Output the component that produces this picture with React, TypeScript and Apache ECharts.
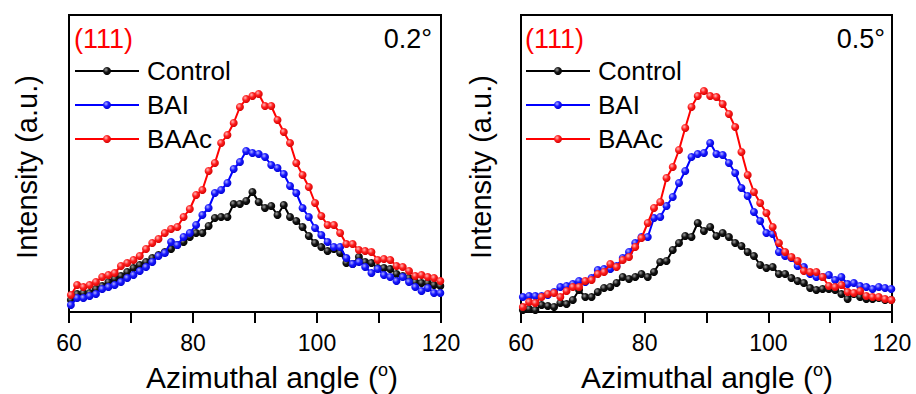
import React, { useEffect, useRef } from 'react';
import * as echarts from 'echarts';

// Azimuthal angle sample positions (deg)
const angles: number[] = Array.from({ length: 60 }, (_, i) => 60.3 + i * 1.01);

// Panel 0.2°
const control02 = [12, 18, 19, 19, 23, 26, 30, 33, 36, 40, 44, 47, 50, 54, 57, 60, 63, 67, 70, 75, 79, 79, 86, 94, 95, 95, 108, 108, 111, 120, 110, 104, 106, 97, 107, 95, 91, 85, 76, 69, 65, 61, 63, 59, 49, 48, 55, 50, 49, 44, 44, 43, 38, 36, 34, 30, 29, 29, 27, 26];
const bai02 = [7, 14, 14, 16, 18, 23, 25, 27, 30, 34, 37, 41, 45, 50, 56, 59, 70, 67, 75, 79, 87, 97, 104, 119, 122, 129, 143, 150, 161, 159, 158, 155, 147, 144, 138, 126, 119, 104, 95, 84, 77, 70, 65, 65, 54, 48, 50, 45, 39, 43, 37, 35, 31, 35, 30, 25, 21, 24, 19, 19];
const baac02 = [17, 27, 25, 27, 30, 35, 37, 39, 46, 49, 52, 56, 63, 69, 73, 79, 83, 85, 95, 103, 117, 122, 141, 149, 169, 177, 189, 205, 213, 216, 218, 206, 206, 192, 180, 169, 149, 137, 125, 109, 96, 87, 87, 79, 68, 68, 62, 61, 60, 52, 53, 52, 46, 45, 41, 36, 37, 35, 34, 31];

// Panel 0.5°
const control05 = [2, 3, 2, 7, 6, 5, 9, 8, 12, 22, 15, 15, 20, 24, 25, 29, 35, 33, 35, 38, 35, 40, 50, 51, 62, 69, 76, 75, 89, 81, 85, 76, 79, 75, 69, 66, 60, 56, 47, 44, 45, 38, 38, 34, 31, 29, 24, 22, 23, 23, 22, 18, 13, 18, 15, 13, 13, 14, 12, 12];
const bai05 = [15, 16, 16, 16, 17, 20, 25, 26, 28, 31, 30, 34, 42, 43, 43, 46, 54, 60, 69, 75, 75, 94, 95, 106, 115, 129, 141, 155, 158, 159, 169, 158, 157, 149, 139, 124, 116, 100, 91, 79, 78, 60, 56, 54, 46, 45, 38, 35, 35, 37, 32, 35, 28, 29, 26, 25, 23, 25, 24, 23];
const baac05 = [5, 10, 9, 15, 18, 19, 15, 21, 25, 25, 31, 32, 38, 40, 48, 45, 52, 55, 65, 74, 89, 104, 110, 134, 145, 162, 184, 205, 216, 221, 216, 215, 208, 198, 185, 160, 137, 120, 109, 99, 85, 69, 60, 55, 51, 41, 40, 40, 35, 26, 25, 27, 20, 19, 21, 16, 15, 15, 13, 12];

const seriesNames = ['Control', 'BAI', 'BAAc'];
const xTicks = [60, 80, 100, 120];
const panelTags = ['0.2°', '0.5°'];

const FONT = '"Liberation Sans", Arial, Helvetica, sans-serif';

const styles = [
  { line: '#000000', light: '#a0a0a0', mid: '#151515', dark: '#000000' },
  { line: '#0000ff', light: '#b0b0ff', mid: '#1a1aff', dark: '#0000d0' },
  { line: '#ff0000', light: '#ffb8b8', mid: '#ff1f1f', dark: '#d00000' },
];

function ball(s: { light: string; mid: string; dark: string }) {
  return new echarts.graphic.RadialGradient(0.38, 0.35, 0.7, [
    { offset: 0, color: s.light },
    { offset: 0.45, color: s.mid },
    { offset: 1, color: s.dark },
  ]);
}

export default function App() {
  const ref = useRef<HTMLDivElement>(null);

  useEffect(() => {
    if (!ref.current) return;
    const chart = echarts.init(ref.current, null, { renderer: 'svg', width: 916, height: 394 });

    const panels = [
      { left: 69, width: 372, data: [control02, bai02, baac02], tag: panelTags[0], legendLeft: 74, tagRight: 432, yTitleX: 27, xTitleX: 272 },
      { left: 521, width: 371, data: [control05, bai05, baac05], tag: panelTags[1], legendLeft: 525, tagRight: 885, yTitleX: 481, xTitleX: 707 },
    ];

    const grid: any[] = [];
    const xAxis: any[] = [];
    const yAxis: any[] = [];
    const series: any[] = [];
    const legend: any[] = [];
    const graphic: any[] = [];

    panels.forEach((p, i) => {
      grid.push({ left: p.left, top: 15, width: p.width, height: 297, show: true, borderColor: '#000', borderWidth: 2, backgroundColor: 'transparent' });
      xAxis.push({
        type: 'value', gridIndex: i, min: 60, max: 120, interval: 10,
        axisLine: { show: true, lineStyle: { color: '#000', width: 2 } },
        axisTick: { show: true, inside: false, length: 11, lineStyle: { color: '#000', width: 2 } },
        splitLine: { show: false },
        axisLabel: {
          color: '#000', fontSize: 23, fontFamily: FONT, margin: 19,
          formatter: (v: number) => (xTicks.includes(v) ? String(v) : ''),
        },
      });
      yAxis.push({
        type: 'value', gridIndex: i, min: 0, max: 297,
        axisLine: { show: true, lineStyle: { color: '#000', width: 2 } },
        axisTick: { show: false }, axisLabel: { show: false }, splitLine: { show: false },
      });
      p.data.forEach((vals, k) => {
        series.push({
          name: seriesNames[k], type: 'line', xAxisIndex: i, yAxisIndex: i,
          data: angles.map((a, j) => [a, vals[j]]),
          symbol: 'circle', symbolSize: 8, showSymbol: true,
          lineStyle: { color: styles[k].line, width: 2 },
          itemStyle: { color: ball(styles[k]), borderWidth: 0 },
          z: 2 + k,
          emphasis: { disabled: true },
        });
      });
      legend.push({
        left: p.legendLeft, top: 58, orient: 'vertical', itemWidth: 64, itemHeight: 10, itemGap: 8,
        padding: 0,
        textStyle: { color: '#000', fontSize: 26, fontFamily: FONT, padding: [0, 0, 0, 3], lineHeight: 25 },
        data: seriesNames, selectedMode: false,
      });
      graphic.push({
        type: 'text', x: p.legendLeft, y: 39,
        style: { text: '(111)', fill: '#ff0000', fontSize: 27, fontFamily: FONT, textAlign: 'left', textVerticalAlign: 'middle', align: 'left', verticalAlign: 'middle' },
      });
      graphic.push({
        type: 'text', x: p.tagRight, y: 39,
        style: { text: p.tag, fill: '#000', fontSize: 27, fontFamily: FONT, textAlign: 'right', textVerticalAlign: 'middle', align: 'right', verticalAlign: 'middle' },
      });
      graphic.push({
        type: 'text', x: p.yTitleX, y: 167, rotation: Math.PI / 2,
        style: { text: 'Intensity (a.u.)', fill: '#000', fontSize: 29, fontFamily: FONT, textAlign: 'center', textVerticalAlign: 'middle', align: 'center', verticalAlign: 'middle' },
      });
      graphic.push({
        type: 'text', x: p.xTitleX, y: 377,
        style: {
          text: '{a|Azimuthal angle (}{s|o}{a|)}', fill: '#000', fontFamily: FONT,
          textAlign: 'center', textVerticalAlign: 'middle', align: 'center', verticalAlign: 'middle',
          rich: {
            a: { fontSize: 30, fontFamily: FONT, fill: '#000' },
            s: { fontSize: 18, fontFamily: FONT, fill: '#000', padding: [0, 0, 15, 0] },
          },
        },
      });
    });

    chart.setOption({
      animation: false,
      backgroundColor: '#ffffff',
      grid, xAxis, yAxis, series, legend, graphic,
    });

    return () => chart.dispose();
  }, []);

  return <div ref={ref} style={{ position: 'fixed', left: 0, top: 0, width: 916, height: 394, background: '#fff' }} />;
}
